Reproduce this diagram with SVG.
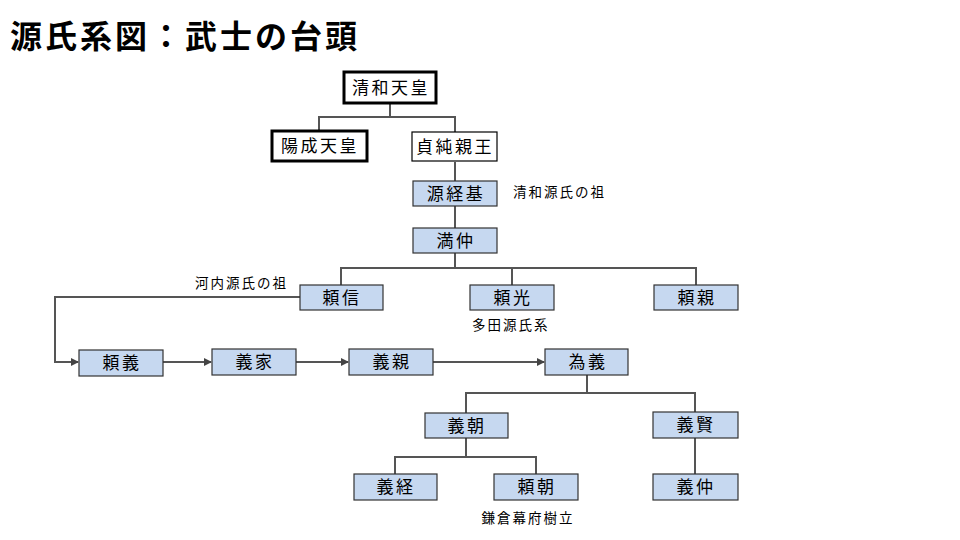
<svg xmlns="http://www.w3.org/2000/svg" width="960" height="540" viewBox="0 0 960 540">
<style>
text{font-family:"Noto Sans CJK JP","Noto Sans CJK SC",sans-serif;}
.n rect{fill:#c6d8f0;stroke:#333;stroke-width:1.2;}
.w rect{fill:#fff;stroke:#000;stroke-width:1.2;}
.k rect{fill:#fff;stroke:#000;stroke-width:3;}
.n text,.w text,.k text{font-size:17px;letter-spacing:2.5px;text-anchor:middle;fill:#000;}
.lb{font-size:13.5px;letter-spacing:2px;fill:#000;}
.c path{fill:none;stroke:#555;stroke-width:2;}
</style>
<defs>
<marker id="ar" markerWidth="8" markerHeight="8" refX="7" refY="4" orient="auto" markerUnits="userSpaceOnUse">
<path d="M0,0 L8,4 L0,8 Z" fill="#444"/>
</marker>
</defs>
<rect width="960" height="540" fill="#fff"/>
<text x="10" y="48" style="font-size:32px;font-weight:bold;letter-spacing:3px;">源氏系図：武士の台頭</text>

<g class="c">
<path d="M390,103 V117 M319,131 V117 H455 V132"/>
<path d="M455,162 V183"/>
<path d="M455,206 V228"/>
<path d="M455,253 V268 M341,285 V268 H696 V285 M512,268 V285"/>
<path d="M300,297 H55 V362 H78" marker-end="url(#ar)"/>
<path d="M163,362 H211" marker-end="url(#ar)"/>
<path d="M296,362 H348" marker-end="url(#ar)"/>
<path d="M433,362 H544" marker-end="url(#ar)"/>
<path d="M587,375 V393 M466,413 V393 H695 V412"/>
<path d="M466,438 V457 M395,474 V457 H536 V474"/>
<path d="M695,438 V474"/>
</g>

<g id="seiwa" class="k"><rect x="344" y="72" width="92" height="31"/><text x="391" y="94">清和天皇</text></g>
<g id="yozei" class="k"><rect x="272" y="131" width="95" height="30"/><text x="320" y="152">陽成天皇</text></g>
<g id="sadazumi" class="w"><rect x="412" y="132" width="85" height="29"/><text x="455" y="153">貞純親王</text></g>
<g id="tsunemoto" class="n"><rect x="413" y="181" width="84" height="25"/><text x="456" y="200">源経基</text></g>
<g id="mitsunaka" class="n"><rect x="413" y="228" width="84" height="25"/><text x="456" y="247">満仲</text></g>
<g id="yorinobu" class="n"><rect x="300" y="285" width="83" height="25"/><text x="342" y="304">頼信</text></g>
<g id="yorimitsu" class="n"><rect x="470" y="285" width="84" height="25"/><text x="513" y="304">頼光</text></g>
<g id="yorichika" class="n"><rect x="654" y="285" width="84" height="25"/><text x="697" y="304">頼親</text></g>
<g id="yoriyoshi" class="n"><rect x="79" y="350" width="84" height="26"/><text x="122" y="369">頼義</text></g>
<g id="yoshiie" class="n"><rect x="212" y="349" width="84" height="26"/><text x="255" y="368">義家</text></g>
<g id="yoshichika" class="n"><rect x="349" y="349" width="84" height="26"/><text x="392" y="368">義親</text></g>
<g id="tameyoshi" class="n"><rect x="545" y="349" width="83" height="26"/><text x="588" y="368">為義</text></g>
<g id="yoshitomo" class="n"><rect x="425" y="413" width="83" height="25"/><text x="467" y="432">義朝</text></g>
<g id="yoshikata" class="n"><rect x="653" y="412" width="85" height="26"/><text x="696" y="431">義賢</text></g>
<g id="yoshitsune" class="n"><rect x="354" y="474" width="83" height="26"/><text x="396" y="493">義経</text></g>
<g id="yoritomo" class="n"><rect x="494" y="474" width="84" height="26"/><text x="537" y="493">頼朝</text></g>
<g id="yoshinaka" class="n"><rect x="653" y="474" width="85" height="26"/><text x="696" y="493">義仲</text></g>

<text class="lb" x="513" y="197">清和源氏の祖</text>
<text class="lb" x="195" y="288">河内源氏の祖</text>
<text class="lb" x="472" y="330">多田源氏系</text>
<text class="lb" x="528" y="523" text-anchor="middle">鎌倉幕府樹立</text>
</svg>
